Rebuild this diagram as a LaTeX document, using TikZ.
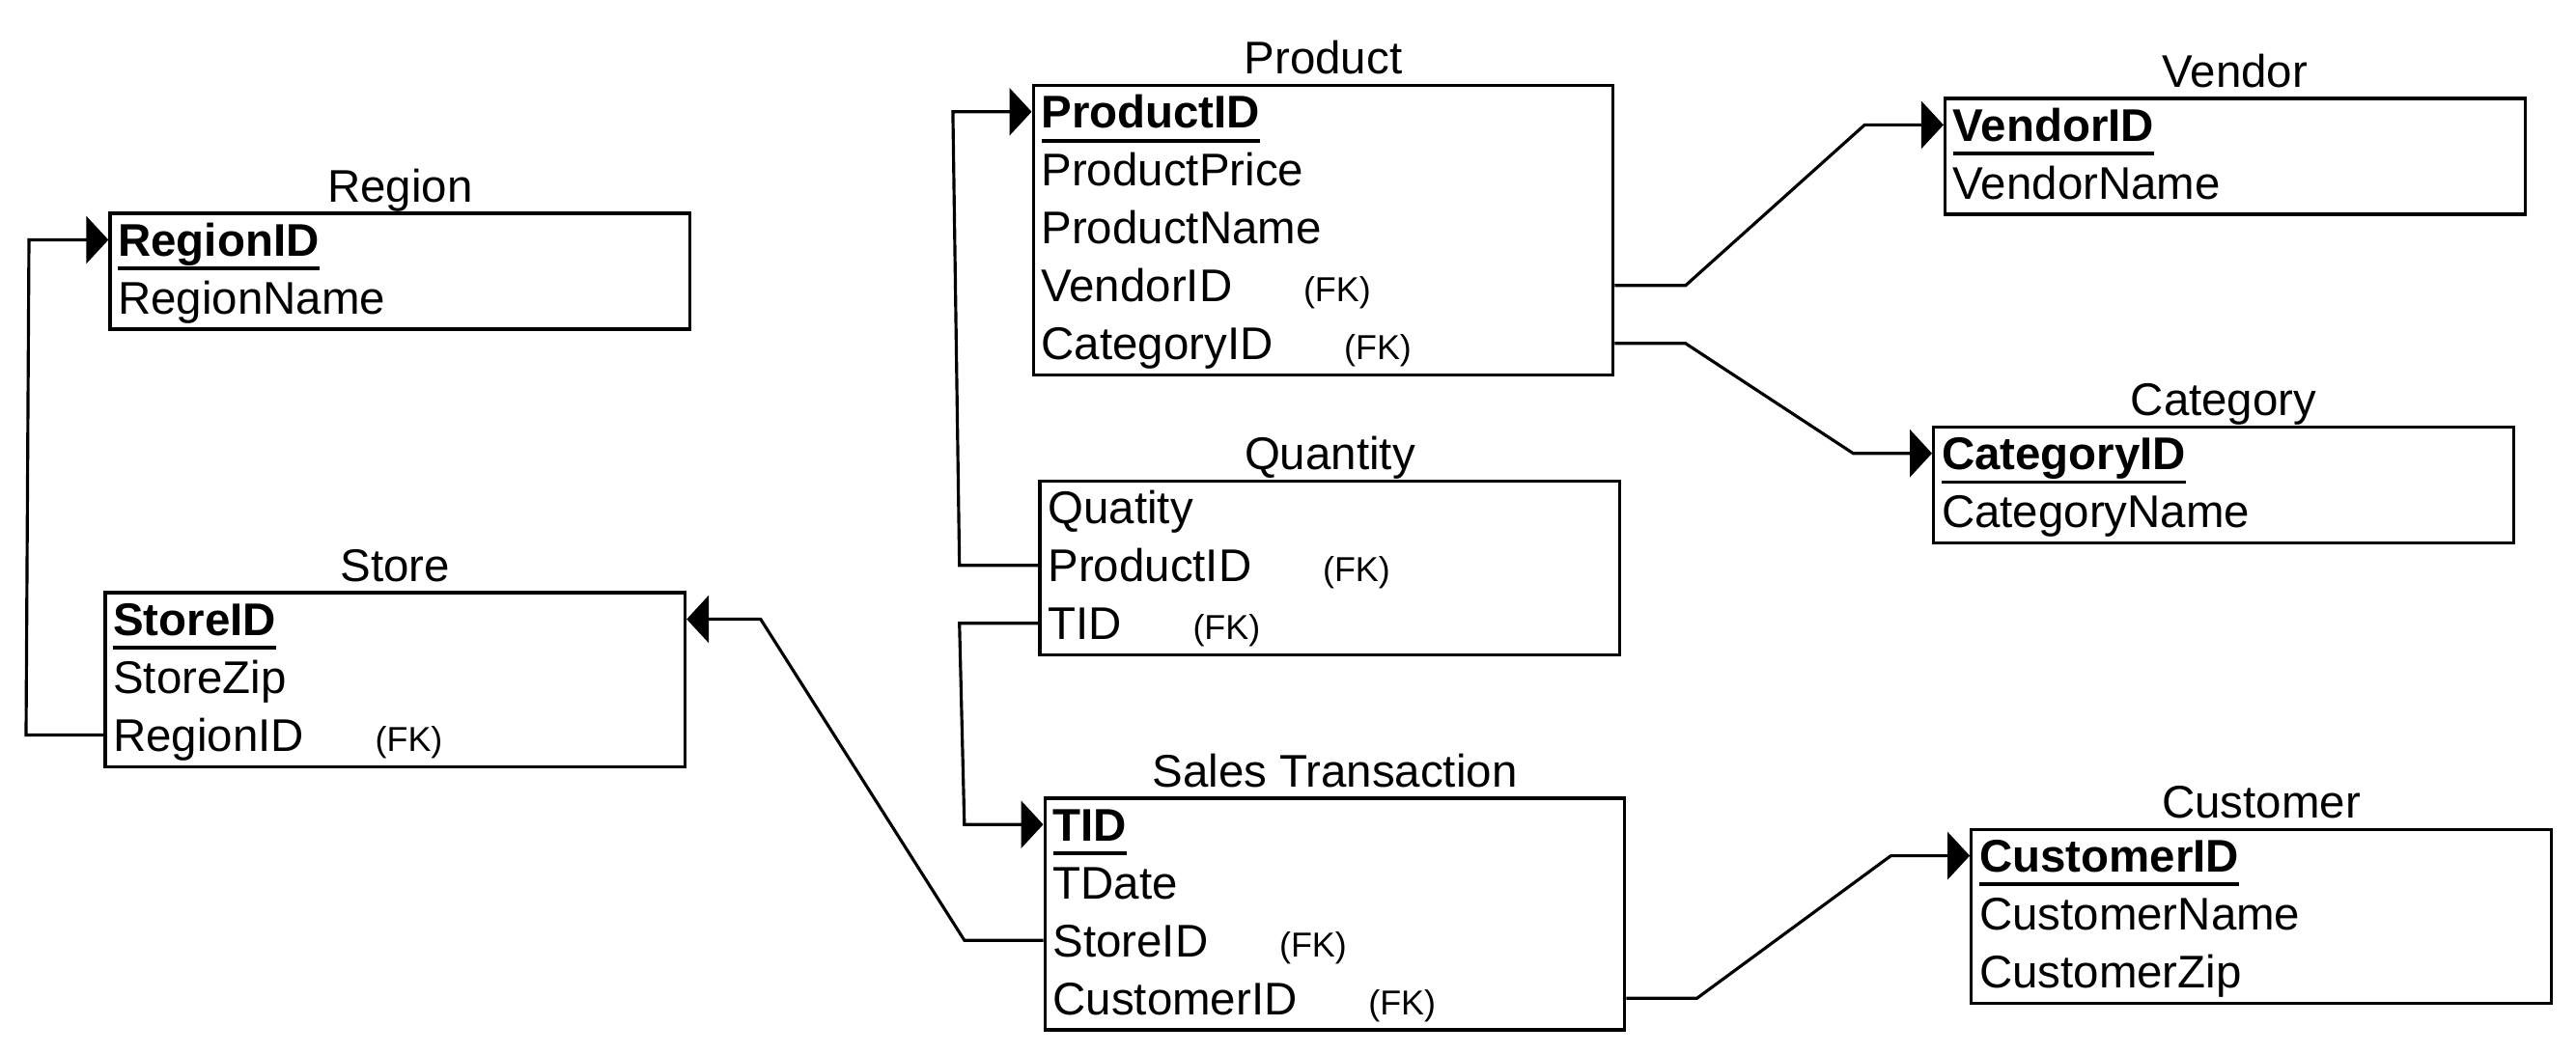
\documentclass[tikz,border=0pt]{standalone}
\usepackage{fontspec}
\setmainfont{Liberation Sans}
\usepackage{tikz}
\usetikzlibrary{arrows.meta,positioning,calc}
\newcommand{\erkey}[1]{\setbox0=\hbox{\bfseries #1}\rlap{\rule[-4.2pt]{\wd0}{1.1pt}}\box0}
\tikzset{
erbox/.style={rectangle,draw,line width=0.95pt,anchor=north west,inner sep=0pt,minimum width=6.006cm},
ertitle/.style={font=\fontsize{13.5}{16}\selectfont,inner sep=0pt,anchor=base},
erfield/.style={font=\fontsize{13.5}{16}\selectfont,inner sep=0pt,outer sep=0pt,anchor=north west,text height=0.47cm,text depth=0.13cm},
erfk/.style={font=\fontsize{10.2}{12}\selectfont,inner sep=0pt},
erarr/.style={-{Triangle[length=0.23cm,width=0.49cm]},line width=0.9pt}
}
\begin{document}
\begin{tikzpicture}[x=1cm,y=1cm]
\useasboundingbox (0,0) rectangle (26.68,-10.92);
% tables on the left
\node[erbox,minimum height=1.2cm] (region) at (1.123,-2.195) {};
\node[ertitle] (regiontitle) at ([yshift=1mm]region.north) {Region};
\node[erfield] (rg1) at ([xshift=1mm,yshift=0.1mm]region.north west) {\erkey{RegionID}};
\node[erfield] (rg2) at (rg1.south west) {RegionName};
\node[erbox,minimum height=1.8cm] (store) at (1.072,-6.125) {};
\node[ertitle] (storetitle) at ([yshift=1mm]store.north) {Store};
\node[erfield] (st1) at ([xshift=1mm,yshift=0.1mm]store.north west) {\erkey{StoreID}};
\node[erfield] (st2) at (st1.south west) {StoreZip};
\node[erfield] (st3) at (st2.south west) {RegionID};
\node[erfk,base right=0.73cm of st3] (st3fk) {(FK)};
% tables in the middle
\node[erbox,minimum height=3.0cm] (product) at (10.685,-0.868) {};
\node[ertitle] (producttitle) at ([yshift=1mm]product.north) {Product};
\node[erfield] (pr1) at ([xshift=1mm,yshift=0.1mm]product.north west) {\erkey{ProductID}};
\node[erfield] (pr2) at (pr1.south west) {ProductPrice};
\node[erfield] (pr3) at (pr2.south west) {ProductName};
\node[erfield] (pr4) at (pr3.south west) {VendorID};
\node[erfield] (pr5) at (pr4.south west) {CategoryID};
\node[erfk,base right=0.73cm of pr4] (pr4fk) {(FK)};
\node[erfk,base right=0.73cm of pr5] (pr5fk) {(FK)};
\node[erbox,minimum height=1.8cm] (quantity) at (10.754,-4.968) {};
\node[ertitle] (quantitytitle) at ([yshift=1mm]quantity.north) {Quantity};
\node[erfield] (qt1) at ([xshift=1mm,yshift=0.1mm]quantity.north west) {Quatity};
\node[erfield] (qt2) at (qt1.south west) {ProductID};
\node[erfield] (qt3) at (qt2.south west) {TID};
\node[erfk,base right=0.73cm of qt2] (qt2fk) {(FK)};
\node[erfk,base right=0.73cm of qt3] (qt3fk) {(FK)};
\node[erbox,minimum height=2.4cm] (sales) at (10.805,-8.252) {};
\node[ertitle] (salestitle) at ([yshift=1mm]sales.north) {Sales Transaction};
\node[erfield] (sa1) at ([xshift=1mm,yshift=0.1mm]sales.north west) {\erkey{TID}};
\node[erfield] (sa2) at (sa1.south west) {TDate};
\node[erfield] (sa3) at (sa2.south west) {StoreID};
\node[erfield] (sa4) at (sa3.south west) {CustomerID};
\node[erfk,base right=0.73cm of sa3] (sa3fk) {(FK)};
\node[erfk,base right=0.73cm of sa4] (sa4fk) {(FK)};
% tables on the right
\node[erbox,minimum height=1.2cm] (vendor) at (20.129,-1.004) {};
\node[ertitle] (vendortitle) at ([yshift=1mm]vendor.north) {Vendor};
\node[erfield] (vd1) at ([xshift=1mm,yshift=0.1mm]vendor.north west) {\erkey{VendorID}};
\node[erfield] (vd2) at (vd1.south west) {VendorName};
\node[erbox,minimum height=1.2cm] (category) at (20.010,-4.407) {};
\node[ertitle] (categorytitle) at ([yshift=1mm]category.north) {Category};
\node[erfield] (ct1) at ([xshift=1mm,yshift=0.1mm]category.north west) {\erkey{CategoryID}};
\node[erfield] (ct2) at (ct1.south west) {CategoryName};
\node[erbox,minimum height=1.8cm] (customer) at (20.401,-8.576) {};
\node[ertitle] (customertitle) at ([yshift=1mm]customer.north) {Customer};
\node[erfield] (cu1) at ([xshift=1mm,yshift=0.1mm]customer.north west) {\erkey{CustomerID}};
\node[erfield] (cu2) at (cu1.south west) {CustomerName};
\node[erfield] (cu3) at (cu2.south west) {CustomerZip};
% foreign keys
\draw[erarr] (st3 -| store.west) -- (st3 -| 0.27,0) -- (rg1 -| 0.30,0) -- (rg1 -| region.west);
\draw[erarr] (qt2 -| quantity.west) -- (qt2 -| 9.937,0) -- (pr1 -| 9.869,0) -- (pr1 -| product.west);
\draw[erarr] (qt3 -| quantity.west) -- (qt3 -| 9.937,0) -- (sa1 -| 9.988,0) -- (sa1 -| sales.west);
\draw[erarr] (sa3 -| sales.west) -- (sa3 -| 9.988,0) -- (st1 -| 7.878,0) -- (st1 -| store.east);
\draw[erarr] (pr4 -| product.east) -- (pr4 -| 17.457,0) -- (vd1 -| 19.312,0) -- (vd1 -| vendor.west);
\draw[erarr] (pr5 -| product.east) -- (pr5 -| 17.457,0) -- (ct1 -| 19.193,0) -- (ct1 -| category.west);
\draw[erarr] (sa4 -| sales.east) -- (sa4 -| 17.576,0) -- (cu1 -| 19.584,0) -- (cu1 -| customer.west);
\end{tikzpicture}
\end{document}
